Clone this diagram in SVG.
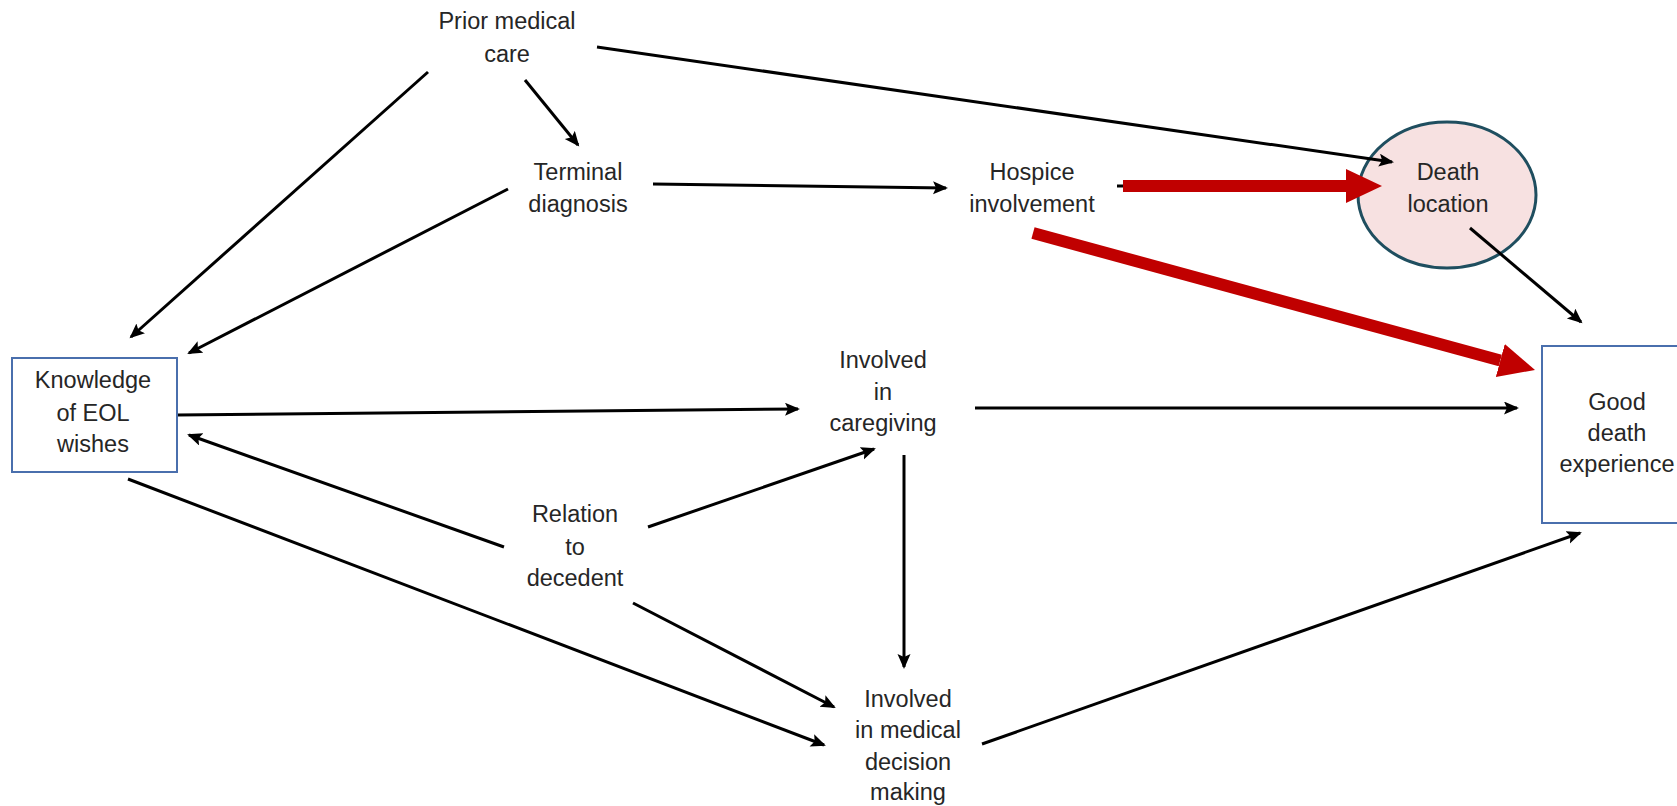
<svg xmlns="http://www.w3.org/2000/svg" width="1677" height="806" viewBox="0 0 1677 806">
<defs>
<style>
.t{font-family:"Liberation Sans",Arial,sans-serif;font-size:23.5px;fill:#262626;text-anchor:middle}
.c{stroke:#000;stroke-width:3;fill:none}
.r{stroke:#c00000;stroke-width:12;fill:none}
.box{fill:#fff;stroke:#4a6fad;stroke-width:2}
</style>
<marker id="ah" markerUnits="userSpaceOnUse" markerWidth="17" markerHeight="14" viewBox="0 0 17 14" refX="13" refY="6.5" orient="auto">
<path d="M0,0 L15,6.5 L0,13 L3,6.5 z" fill="#000"/>
</marker>
<marker id="rh" markerUnits="userSpaceOnUse" markerWidth="40" markerHeight="36" viewBox="0 0 40 36" refX="0" refY="17" orient="auto">
<path d="M0,0 L36,17 L0,34 z" fill="#c00000"/>
</marker>
</defs>
<rect width="1677" height="806" fill="#fff"/>

<g id="death-location">
<ellipse cx="1447" cy="195" rx="89" ry="73" fill="#f7e1e1" stroke="#1f4e5f" stroke-width="3"/>
<text class="t" x="1448" y="180">Death</text>
<text class="t" x="1448" y="212">location</text>
</g>

<g id="connectors">
<line class="c" x1="428" y1="72" x2="131" y2="337" marker-end="url(#ah)"/>
<line class="c" x1="525" y1="80" x2="578" y2="145" marker-end="url(#ah)"/>
<line class="c" x1="597" y1="47" x2="1392" y2="162" marker-end="url(#ah)"/>
<line class="c" x1="508" y1="189" x2="189" y2="353" marker-end="url(#ah)"/>
<line class="c" x1="653" y1="184" x2="946" y2="188" marker-end="url(#ah)"/>
<line class="c" x1="1117" y1="186" x2="1340" y2="186"/>
<line class="r" x1="1123" y1="186" x2="1346" y2="186" marker-end="url(#rh)"/>
<line class="r" x1="1033" y1="233" x2="1500.3" y2="360.5" marker-end="url(#rh)"/>
<line class="c" x1="1470" y1="228" x2="1581" y2="322" marker-end="url(#ah)"/>
<line class="c" x1="177" y1="415" x2="798" y2="409" marker-end="url(#ah)"/>
<line class="c" x1="975" y1="408" x2="1517" y2="408" marker-end="url(#ah)"/>
<line class="c" x1="504" y1="547" x2="189" y2="435" marker-end="url(#ah)"/>
<line class="c" x1="648" y1="527" x2="874" y2="449" marker-end="url(#ah)"/>
<line class="c" x1="904" y1="455" x2="904" y2="667" marker-end="url(#ah)"/>
<line class="c" x1="633" y1="603" x2="834" y2="707" marker-end="url(#ah)"/>
<line class="c" x1="128" y1="479" x2="824" y2="745" marker-end="url(#ah)"/>
<line class="c" x1="982" y1="744" x2="1580" y2="533" marker-end="url(#ah)"/>
</g>

<g id="prior-medical-care">
<text class="t" x="507" y="29">Prior medical</text>
<text class="t" x="507" y="62">care</text>
</g>
<g id="terminal-diagnosis">
<text class="t" x="578" y="180">Terminal</text>
<text class="t" x="578" y="212">diagnosis</text>
</g>
<g id="hospice-involvement">
<text class="t" x="1032" y="180">Hospice</text>
<text class="t" x="1032" y="212">involvement</text>
</g>
<g id="knowledge-eol">
<rect class="box" x="12" y="358" width="165" height="114"/>
<text class="t" x="93" y="388">Knowledge</text>
<text class="t" x="93" y="421">of EOL</text>
<text class="t" x="93" y="452">wishes</text>
</g>
<g id="involved-caregiving">
<text class="t" x="883" y="368">Involved</text>
<text class="t" x="883" y="400">in</text>
<text class="t" x="883" y="431">caregiving</text>
</g>
<g id="good-death">
<rect class="box" x="1542" y="346" width="150" height="177"/>
<text class="t" x="1617" y="410">Good</text>
<text class="t" x="1617" y="441">death</text>
<text class="t" x="1617" y="472">experience</text>
</g>
<g id="relation-decedent">
<text class="t" x="575" y="522">Relation</text>
<text class="t" x="575" y="555">to</text>
<text class="t" x="575" y="586">decedent</text>
</g>
<g id="involved-medical-decision">
<text class="t" x="908" y="707">Involved</text>
<text class="t" x="908" y="738">in medical</text>
<text class="t" x="908" y="770">decision</text>
<text class="t" x="908" y="800">making</text>
</g>
</svg>
